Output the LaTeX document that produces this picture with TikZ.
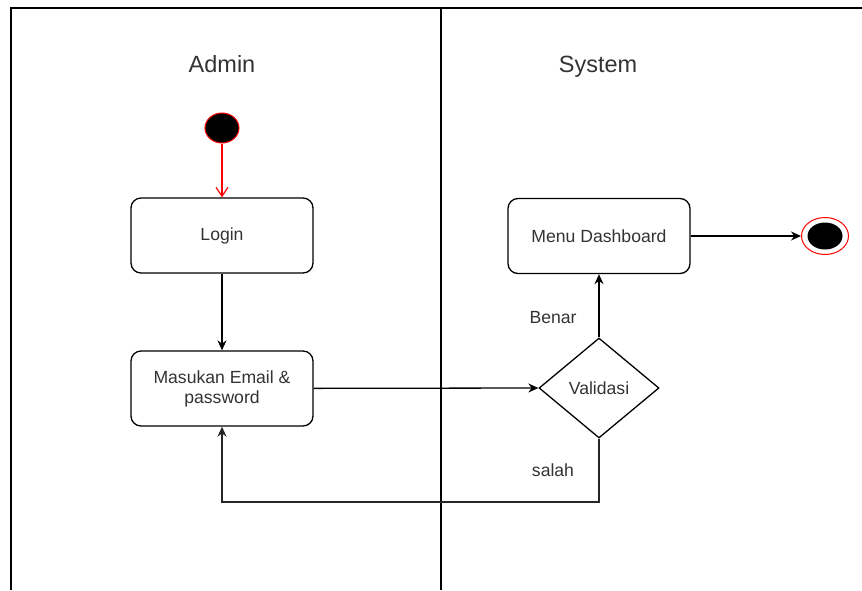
\documentclass[tikz,border=0pt]{standalone}
\usepackage{fontspec}
\setmainfont{Liberation Sans}
\usetikzlibrary{arrows.meta,shapes.geometric}
\begin{document}
\begin{tikzpicture}[x=1pt,y=-1pt,
  lbl/.style={text=black!80, font=\fontsize{17.6}{20}\selectfont},
  lanetitle/.style={text=black!80, font=\fontsize{23.5}{26}\selectfont, anchor=base},
  act/.style={draw, rounded corners=10pt, minimum width=182pt, minimum height=75pt,
    line width=1.3pt, align=center, lbl},
  flow/.style={line width=1.3pt, -{Stealth[length=10pt,width=9pt]}},
  lane/.style={line width=1.6pt}]
\useasboundingbox (0,0) rectangle (862,590);

% swimlane frame
\draw[lane] (11,590) -- (11,8) -- (862,8);
\draw[lane] (441,8) -- (441,590);

% lane titles
\node[lanetitle] (admin) at (222,72) {Admin};
\node[lanetitle] (system) at (598,72) {System};

% initial node
\node[ellipse, draw=red, fill=black, line width=1pt, inner sep=0pt,
  minimum width=34pt, minimum height=30pt] (start) at (222,128) {};

% activities
\node[act] (login) at (222,235.5) {Login};
\node[act] (email) at (222,388.5) {Masukan Email \&\\password};
\node[act] (dash) at (599,236) {Menu Dashboard};
\node[diamond, draw, line width=1.3pt, inner sep=0pt, minimum width=120pt,
  minimum height=100pt, lbl] (val) at (599,388) {Validasi};

% final node
\node[ellipse, draw=red, fill=white, line width=1pt, inner sep=0pt,
  minimum width=47pt, minimum height=37pt] (end) at (825,236) {};
\node[ellipse, fill=black, inner sep=0pt,
  minimum width=35pt, minimum height=27pt] (endcore) at (end) {};

% guard labels
\node[lbl] (benar) at (553,318) {Benar};
\node[lbl] (salah) at (553,470) {salah};

% control flow
\draw[red, line width=1.2pt, -{Straight Barb[length=9pt,width=12pt]}] (start) -- (login);
\draw[flow] (login) -- (email);
\draw[flow] (email) -- (val.west);
\draw[flow] (val.north) -- (dash.south);
\draw[flow] (dash.east) -- (end.west);
\coordinate (turn) at (599,502);
\draw[flow, black!85] (val.south) -- (turn) -| (email.south);
\end{tikzpicture}
\end{document}
